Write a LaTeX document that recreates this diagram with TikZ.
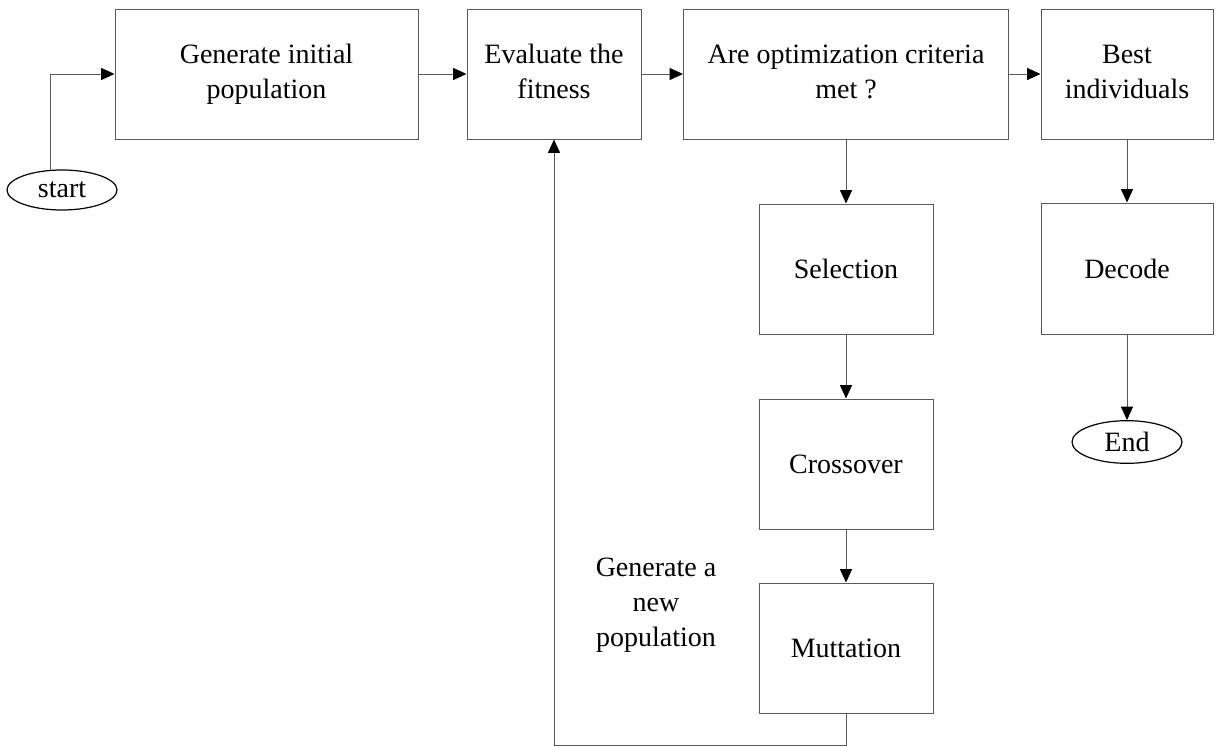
\documentclass[tikz,border=0pt]{standalone}
\usepackage{fontspec}
\setmainfont{Liberation Serif}
\usetikzlibrary{arrows.meta,shapes.geometric}
\begin{document}
\begin{tikzpicture}[x=0.75pt,y=-0.75pt,
  every node/.style={font=\fontsize{21pt}{26.25pt}\selectfont, inner sep=0pt},
  box/.style={draw=black!65, line width=0.75pt, rectangle, align=center},
  term/.style={draw=black, line width=0.9pt, ellipse, inner sep=0pt},
  arr/.style={draw=black!65, line width=0.75pt,
    -{Triangle[length=10pt,width=9pt,color=black]}},
  lbl/.style={align=center}]
\useasboundingbox (0,0) rectangle (1217,746);
\node[box, minimum width=227.25pt, minimum height=97.5pt] (gen) at (266.5,74) {\strut Generate initial\\\strut population};
\node[box, minimum width=130.5pt, minimum height=97.5pt] (eval) at (554,74) {\strut Evaluate the\\\strut fitness};
\node[box, minimum width=243.75pt, minimum height=97.5pt] (crit) at (846,74) {\strut Are optimization criteria\\\strut met ?};
\node[box, minimum width=129pt, minimum height=97.5pt] (best) at (1127,74) {\strut Best\\\strut individuals};
\node[box, minimum width=130.5pt, minimum height=97.5pt] (sel) at (846,269) {Selection};
\node[box, minimum width=130.5pt, minimum height=97.5pt] (cross) at (846,464) {Crossover};
\node[box, minimum width=130.5pt, minimum height=97.5pt] (mut) at (846,648) {Muttation};
\node[box, minimum width=129pt, minimum height=98.25pt] (dec) at (1127,268.5) {Decode};
\node[term, minimum width=82.5pt, minimum height=30pt] (start) at (62,190) {start};
\node[term, minimum width=82.5pt, minimum height=32pt] (end) at (1127,442) {End};
\node[lbl] (newpop) at (656,604) {\strut Generate a\\\strut new\\\strut population};
\draw[arr] (start.120) |- (gen.west);
\draw[arr] (gen.east) -- (eval.west);
\draw[arr] (eval.east) -- (crit.west);
\draw[arr] (crit.east) -- (best.west);
\draw[arr] (crit.south) -- (sel.north);
\draw[arr] (sel.south) -- (cross.north);
\draw[arr] (cross.south) -- (mut.north);
\draw[arr] (best.south) -- (dec.north);
\draw[arr] (dec.south) -- (end.north);
\draw[arr] (mut.south) -- ++(0,32) -| (eval.south);
\end{tikzpicture}
\end{document}
